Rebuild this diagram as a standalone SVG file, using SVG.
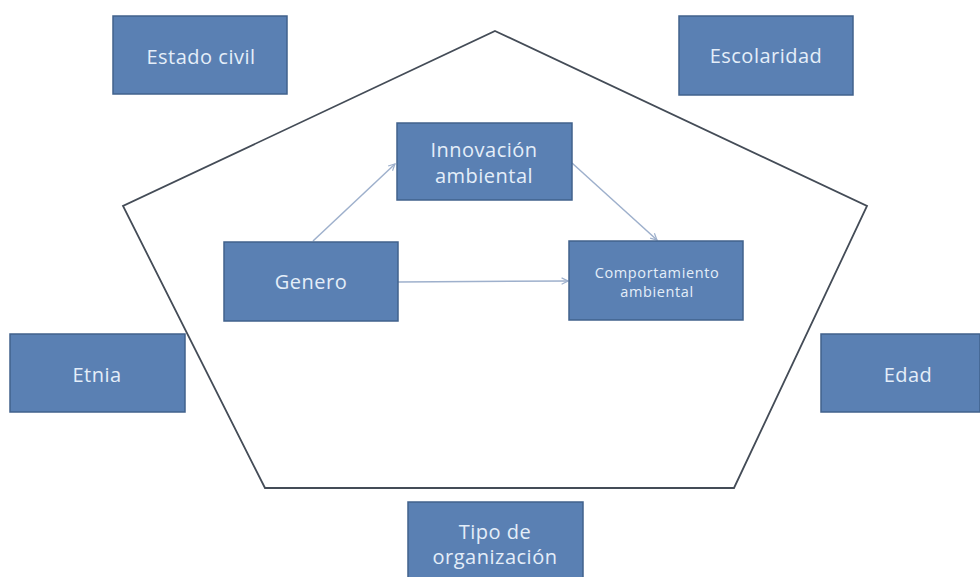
<svg xmlns="http://www.w3.org/2000/svg" width="980" height="577" viewBox="0 0 980 577">
<defs>
<style>
.box{fill:#5A80B3;stroke:#41628C;stroke-width:1.5}
.t{font-family:"Open Sans",Lato,"Liberation Sans",sans-serif;font-size:20px;letter-spacing:0.5px;fill:#E4EEF9;text-anchor:middle}
.s{font-size:14.5px;letter-spacing:0.6px}
.c{stroke:#9EB0CC;stroke-width:1.5;fill:none;marker-end:url(#ah)}
</style>
<marker id="ah" viewBox="0 0 10 10" refX="9" refY="5" markerWidth="8" markerHeight="8" orient="auto" markerUnits="userSpaceOnUse">
<path d="M1 1 L9 5 L1 9" fill="none" stroke="#9EB0CC" stroke-width="1.5"/>
</marker>
</defs>
<rect width="980" height="577" fill="#fff"/>
<polygon id="pentagon" points="495,31 867,206 734,488 265,488 123,206" fill="none" stroke="#444C57" stroke-width="1.8"/>
<g id="connectors">
<line class="c" x1="313" y1="241" x2="395" y2="164"/>
<line class="c" x1="572" y1="163" x2="657" y2="240"/>
<line class="c" x1="398" y1="282" x2="568" y2="281"/>
</g>
<g id="estado-civil"><rect class="box" x="113" y="16" width="174" height="78"/><text class="t" x="201" y="64">Estado civil</text></g>
<g id="escolaridad"><rect class="box" x="679" y="16" width="174" height="79"/><text class="t" x="766" y="63">Escolaridad</text></g>
<g id="innovacion"><rect class="box" x="397" y="123" width="175" height="77"/><text class="t" x="484" y="157">Innovación</text><text class="t" x="484" y="183">ambiental</text></g>
<g id="genero"><rect class="box" x="224" y="242" width="174" height="79"/><text class="t" x="311" y="289">Genero</text></g>
<g id="comportamiento"><rect class="box" x="569" y="241" width="174" height="79"/><text class="t s" x="657" y="278">Comportamiento</text><text class="t s" x="657" y="297">ambiental</text></g>
<g id="etnia"><rect class="box" x="10" y="334" width="175" height="78"/><text class="t" x="97" y="382">Etnia</text></g>
<g id="edad"><rect class="box" x="821" y="334" width="159" height="78"/><text class="t" x="908" y="382">Edad</text></g>
<g id="tipo"><rect class="box" x="408" y="502" width="175" height="80"/><text class="t" x="495" y="539">Tipo de</text><text class="t" x="495" y="564">organización</text></g>
</svg>
